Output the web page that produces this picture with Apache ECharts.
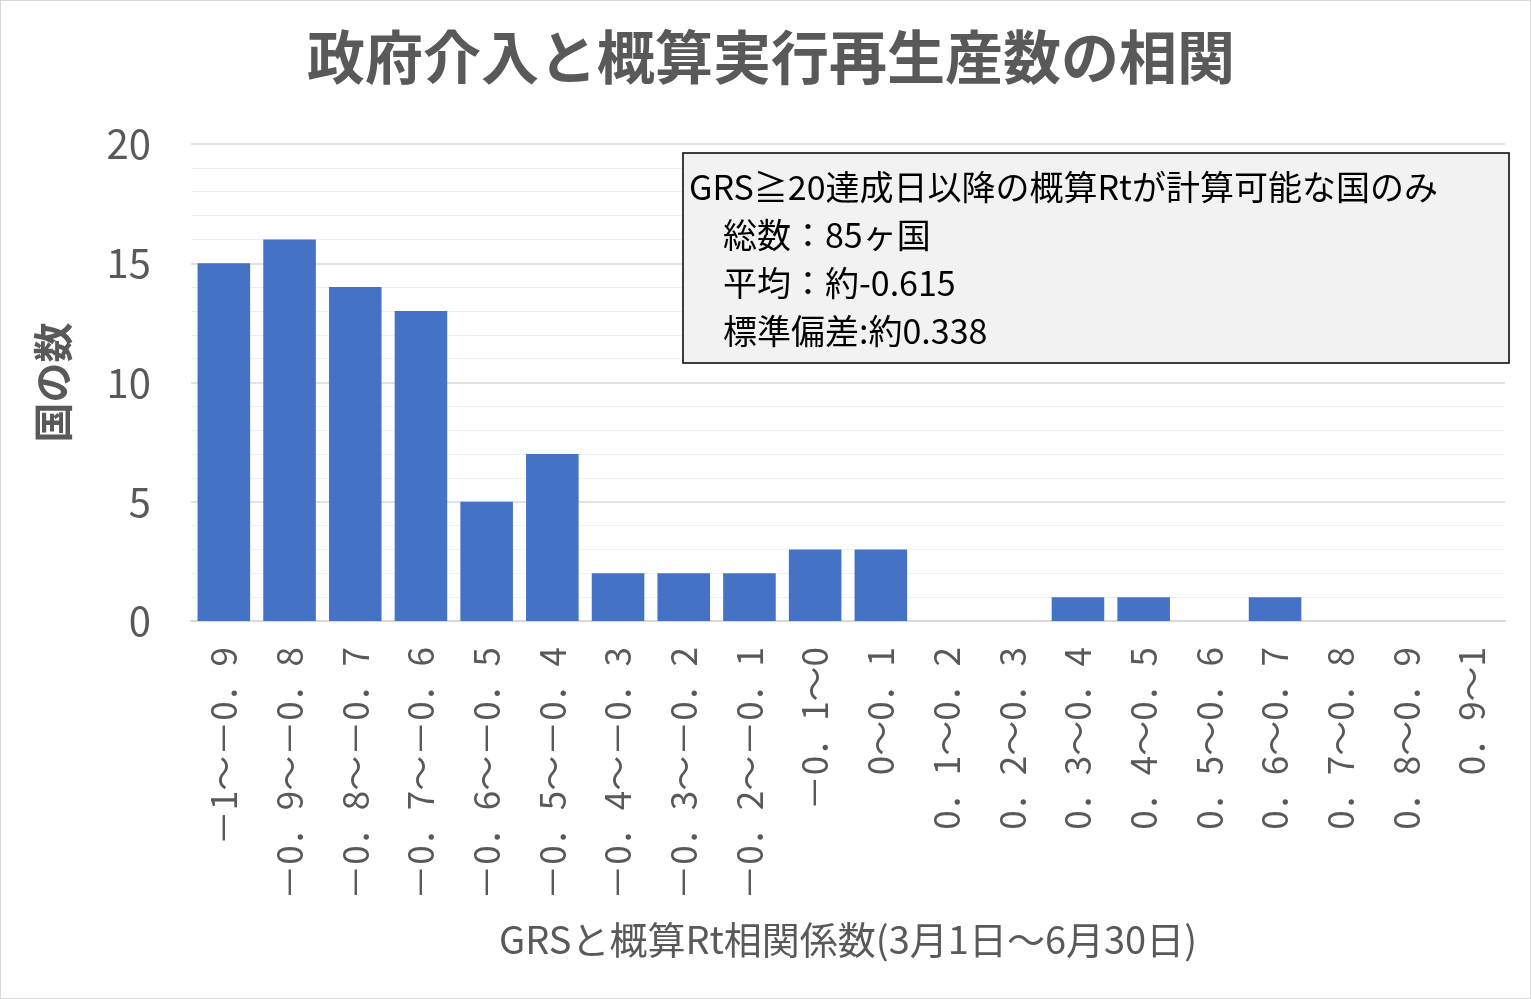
<!DOCTYPE html>
<html><head><meta charset="utf-8">
<script src="https://cdn.jsdelivr.net/npm/echarts@6/dist/echarts.min.js"></script>
<style>html,body{margin:0;padding:0}#main{width:1529px;height:997px;border:1px solid #d9d9d9}</style>
</head><body><div id="main"></div>
<script>
var categories = ['－1～－0．9','－0．9～－0．8','－0．8～－0．7','－0．7～－0．6','－0．6～－0．5','－0．5～－0．4','－0．4～－0．3','－0．3～－0．2','－0．2～－0．1','－0．1～0','0～0．1','0．1～0．2','0．2～0．3','0．3～0．4','0．4～0．5','0．5～0．6','0．6～0．7','0．7～0．8','0．8～0．9','0．9～1'];
var counts = [15,16,14,13,5,7,2,2,2,3,3,0,0,1,1,0,1,0,0,0];
var noteLines = ['GRS≧20達成日以降の概算Rtが計算可能な国のみ','　総数：85ヶ国','　平均：約-0.615','　標準偏差:約0.338'];
var font = '"Noto Sans CJK JP"';
var chart = echarts.init(document.getElementById('main'));
chart.setOption({
  textStyle: {fontFamily: font},
  title: {text: '政府介入と概算実行再生産数の相関', left: 765, textAlign: 'center', top: 22,
    textStyle: {fontFamily: font, fontSize: 58, fontWeight: 'bold', color: '#595959'}},
  grid: {left: 190, right: 25, top: 143, bottom: 377},
  xAxis: {
    type: 'category', data: categories,
    name: 'GRSと概算Rt相関係数(3月1日～6月30日)', nameLocation: 'middle', nameGap: 300,
    nameTextStyle: {fontFamily: font, fontSize: 38, color: '#595959'},
    axisLine: {lineStyle: {color: '#d9d9d9', width: 2}}, axisTick: {show: false},
    axisLabel: {rotate: 90, interval: 0, fontSize: 35, color: '#595959', margin: 26, fontFamily: font}
  },
  yAxis: {
    type: 'value', min: 0, max: 20, interval: 5,
    name: '国の数', nameLocation: 'middle', nameGap: 118, nameRotate: 90,
    nameTextStyle: {fontFamily: font, fontSize: 40, fontWeight: 'bold', color: '#595959'},
    axisLabel: {fontSize: 40, color: '#595959', margin: 40, fontFamily: font},
    splitLine: {lineStyle: {color: '#d9d9d9', width: 1.5}},
    minorTick: {show: false, splitNumber: 5},
    minorSplitLine: {show: true, lineStyle: {color: '#efefef', width: 1}}
  },
  series: [{type: 'bar', data: counts, barCategoryGap: '20%', itemStyle: {color: '#4472c4'}}],
  graphic: [
    {type: 'rect', z: 100, shape: {x: 682, y: 152, width: 826, height: 210},
      style: {fill: '#f2f2f2', stroke: '#000', lineWidth: 1.5}},
    {type: 'text', z: 101, left: 688, top: 162,
      style: {text: noteLines.join('\n'), font: '34px ' + font, lineHeight: 48, fill: '#000'}}
  ]
});
</script></body></html>
